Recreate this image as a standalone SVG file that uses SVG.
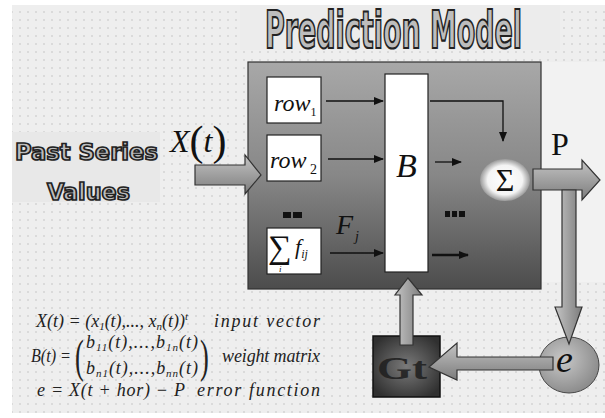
<svg xmlns="http://www.w3.org/2000/svg" width="605" height="418" viewBox="0 0 605 418">
<defs>
<pattern id="dots" width="8" height="8" patternUnits="userSpaceOnUse">
<rect width="8" height="8" fill="#eeeeee"/>
<rect x="3" y="3" width="2" height="2" fill="#dadada"/>
</pattern>
<linearGradient id="boxg" x1="0" y1="0" x2="0" y2="1">
<stop offset="0" stop-color="#a8a8a8"/>
<stop offset="0.5" stop-color="#878787"/>
<stop offset="1" stop-color="#4c4c4c"/>
</linearGradient>
<linearGradient id="arrH" x1="0" y1="0" x2="0" y2="1">
<stop offset="0" stop-color="#c4c4c4"/>
<stop offset="1" stop-color="#7c7c7c"/>
</linearGradient>
<linearGradient id="arrV" x1="0" y1="0" x2="1" y2="0">
<stop offset="0" stop-color="#c4c4c4"/>
<stop offset="1" stop-color="#7c7c7c"/>
</linearGradient>
<radialGradient id="sig" cx="0.5" cy="0.5" r="0.5">
<stop offset="0" stop-color="#ffffff"/>
<stop offset="0.7" stop-color="#f4f4f4"/>
<stop offset="1" stop-color="#9a9a9a"/>
</radialGradient>
<radialGradient id="eg" cx="0.4" cy="0.4" r="0.6">
<stop offset="0" stop-color="#c8c8c8"/>
<stop offset="1" stop-color="#8e8e8e"/>
</radialGradient>
<radialGradient id="gg" cx="0.5" cy="0.5" r="0.6">
<stop offset="0" stop-color="#7a7a7a"/>
<stop offset="1" stop-color="#303030"/>
</radialGradient>
<marker id="ah" markerWidth="10" markerHeight="8" refX="9" refY="4" orient="auto" markerUnits="userSpaceOnUse">
<path d="M0,0 L10,4 L0,8 z" fill="#111"/>
</marker>
<style>
.outline{font-family:"Liberation Sans Narrow","DejaVu Sans Condensed","Liberation Sans",sans-serif;font-weight:bold;fill:#bdbdbd;stroke:#222;stroke-width:1.6}
.serif{font-family:"Liberation Serif","DejaVu Serif",serif}
.it{font-family:"Liberation Serif","DejaVu Serif",serif;font-style:italic;fill:#111}
.wbox{fill:#fff;stroke:#222;stroke-width:1.2}
.arr{stroke:#333;stroke-width:1.2}
.ln{stroke:#111;stroke-width:1.3;fill:none}
.f{font-family:"Liberation Serif","DejaVu Serif",serif;font-style:italic;font-size:18px;fill:#222}
.sub{font-size:11px}
</style>
</defs>
<rect x="0" y="0" width="605" height="418" fill="#ffffff"/>
<rect x="12" y="5" width="593" height="408" fill="url(#dots)"/>
<rect x="240" y="5" width="320" height="45" fill="#ececec"/>
<rect x="12" y="132" width="148" height="70" fill="#e8e8e8"/>
<rect x="542" y="62" width="63" height="220" fill="#f2f2f2"/>

<g id="title">
<text class="outline" x="0" y="0" font-size="52" transform="translate(265 48) scale(0.576 1)" style="stroke-width:2.2">Prediction Model</text>
</g>

<g id="past-series">
<text class="outline" x="15" y="160" font-size="23" textLength="143" lengthAdjust="spacingAndGlyphs">Past Series</text>
<text class="outline" x="47" y="200" font-size="23" textLength="83" lengthAdjust="spacingAndGlyphs">Values</text>
</g>

<g id="xt-label">
<text class="it" x="170" y="152" font-size="32">X<tspan font-style="normal" font-size="42" dy="3">(</tspan><tspan dy="-3">t</tspan><tspan font-style="normal" font-size="42" dy="3">)</tspan></text>
</g>

<g id="model-box">
<rect x="248" y="62" width="293" height="227" fill="url(#boxg)" stroke="#333" stroke-width="1.2"/>
</g>

<g id="row1">
<rect class="wbox" x="267" y="77" width="54" height="46"/>
<text class="it" x="274" y="111" font-size="24">row<tspan font-style="normal" font-size="12" dy="5">1</tspan></text>
</g>
<g id="row2">
<rect class="wbox" x="267" y="135" width="54" height="46"/>
<text class="it" x="270" y="168" font-size="24">row<tspan font-style="normal" font-size="14" dy="6"> 2</tspan></text>
</g>
<g id="dots-left">
<rect x="283" y="212" width="8" height="6" fill="#111"/>
<rect x="293" y="212" width="9" height="6" fill="#111"/>
</g>
<g id="sum-box">
<rect class="wbox" x="267" y="228" width="54" height="46"/>
<text class="serif" x="268" y="258" font-size="33" fill="#111">∑</text>
<text class="it" x="279" y="272" font-size="9">i</text>
<text class="it" x="295" y="254" font-size="22">f<tspan font-size="12" dy="4">ij</tspan></text>
</g>
<g id="fj-label">
<text class="it" x="336" y="234" font-size="28">F<tspan font-size="14" dy="7" dx="2">j</tspan></text>
</g>

<g id="b-matrix">
<rect class="wbox" x="385" y="74" width="43" height="198"/>
<text class="it" x="396" y="177" font-size="34">B</text>
</g>
<g id="dots-right">
<rect x="445" y="211" width="5" height="6" fill="#111"/>
<rect x="452" y="211" width="5" height="6" fill="#111"/>
<rect x="459" y="211" width="6" height="6" fill="#111"/>
</g>

<g id="sigma">
<ellipse cx="505" cy="180" rx="25" ry="21" fill="url(#sig)"/>
<text class="serif" x="505" y="191" font-size="32" text-anchor="middle" fill="#111">Σ</text>
</g>

<g id="p-label">
<text class="serif" x="551" y="155" font-size="32" fill="#111">P</text>
</g>

<g id="e-node">
<ellipse cx="569" cy="365" rx="30" ry="28" fill="url(#eg)" stroke="#444" stroke-width="1"/>
</g>

<g id="g-box">
<rect x="373" y="336" width="67" height="61" fill="url(#gg)" stroke="#111" stroke-width="1.5"/>
<text class="serif" x="377" y="379" font-size="32" font-weight="bold" fill="#1e1e1e" opacity="0.85" textLength="50" lengthAdjust="spacingAndGlyphs">Gt</text>
</g>

<g id="connectors">
<line class="ln" x1="326" y1="101" x2="383" y2="101" marker-end="url(#ah)"/>
<line class="ln" x1="328" y1="159" x2="383" y2="159" marker-end="url(#ah)"/>
<line class="ln" x1="330" y1="253" x2="383" y2="253" marker-end="url(#ah)"/>
<line class="ln" x1="435" y1="162" x2="461" y2="162" marker-end="url(#ah)"/>
<line x1="432" y1="255" x2="468" y2="255" stroke="#111" stroke-width="2.6" marker-end="url(#ah)"/>
<polyline class="ln" points="430,101 503,101 503,141" marker-end="url(#ah)"/>
<polygon class="arr" fill="url(#arrH)" points="195,165 245,165 245,155 261,175 245,194 245,185 195,185"/>
<polygon class="arr" fill="url(#arrH)" points="533,169 582,169 582,160 600,180 582,200 582,190 533,190"/>
<polygon class="arr" fill="url(#arrV)" points="562,190 576,190 576,307 582,307 569,344 555,307 562,307"/>
<polygon class="arr" fill="url(#arrH)" points="553,357 457,357 457,343 429,367 457,380 457,370 553,370"/>
<polygon class="arr" fill="url(#arrV)" points="400,345 400,295 395,295 408,278 422,295 413,295 413,345"/>
</g>

<g id="e-label">
<text class="it" x="556" y="372" font-size="38">e</text>
</g>

<g id="formulas">
<text class="f" x="36" y="327">X(t) = (x<tspan class="sub" dy="3">1</tspan><tspan dy="-3">(t),..., x</tspan><tspan class="sub" dy="3">n</tspan><tspan dy="-3">(t))</tspan><tspan class="sub" dy="-7">t</tspan></text>
<text class="f" x="214" y="327" textLength="106" lengthAdjust="spacing">input vector</text>
<text class="f" x="31" y="362" textLength="40" lengthAdjust="spacingAndGlyphs">B(t) =</text>
<text class="serif" x="75" y="372" font-size="44" fill="#222" transform="translate(75 372) scale(0.6 1.05) translate(-75 -372)">(</text>
<text class="f" x="86" y="348" textLength="112" lengthAdjust="spacing">b<tspan class="sub" dy="3">11</tspan><tspan dy="-3">(t),...,b</tspan><tspan class="sub" dy="3">1n</tspan><tspan dy="-3">(t)</tspan></text>
<text class="f" x="86" y="374" textLength="112" lengthAdjust="spacing">b<tspan class="sub" dy="3">n1</tspan><tspan dy="-3">(t),...,b</tspan><tspan class="sub" dy="3">nn</tspan><tspan dy="-3">(t)</tspan></text>
<text class="serif" x="200" y="372" font-size="44" fill="#222" transform="translate(200 372) scale(0.6 1.05) translate(-200 -372)">)</text>
<text class="f" x="222" y="362" textLength="98" lengthAdjust="spacing">weight  matrix</text>
<text class="f" x="37" y="396" textLength="148" lengthAdjust="spacing">e = X(t + hor) − P</text>
<text class="f" x="197" y="396" textLength="123" lengthAdjust="spacing">error  function</text>
</g>
</svg>
